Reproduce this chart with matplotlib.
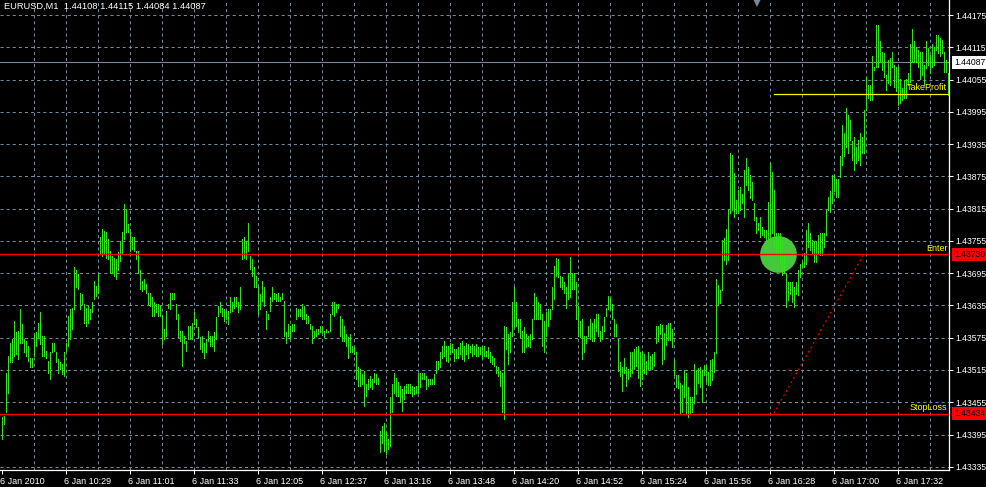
import numpy as np
import matplotlib.pyplot as plt
from matplotlib import transforms

plt.rcParams['font.family'] = ['Liberation Sans', 'DejaVu Sans']
plt.rcParams['lines.scale_dashes'] = False

chart_title = 'EURUSD,M1  1.44108 1.44115 1.44084 1.44087'

# bottom labels, one every 32 bars
time_labels = ['6 Jan 2010', '6 Jan 10:29', '6 Jan 11:01', '6 Jan 11:33', '6 Jan 12:05',
               '6 Jan 12:37', '6 Jan 13:16', '6 Jan 13:48', '6 Jan 14:20', '6 Jan 14:52',
               '6 Jan 15:24', '6 Jan 15:56', '6 Jan 16:28', '6 Jan 17:00', '6 Jan 17:32']

price_ticks = [1.44175, 1.44115, 1.44055, 1.43995, 1.43935, 1.43875, 1.43815, 1.43755,
               1.43695, 1.43635, 1.43575, 1.43515, 1.43455, 1.43395, 1.43335]

bid = 1.44087
enter_price = 1.43730
stop_price = 1.43434
take_price = 1.44028
signal_bar = 388      # green dot
order_bar = 386       # start of take profit line / dotted line
order_end_bar = 431

# M1 bars, high and low in points: price = 1 + pts / 100000
high_pts = [
    43427, 43429, 43510, 43541, 43566, 43572, 43606, 43585, 43588, 43628,
    43600, 43572, 43569, 43560, 43538, 43538, 43582, 43585, 43603, 43622,
    43579, 43579, 43551, 43532, 43548, 43566, 43566, 43548, 43535, 43529,
    43526, 43548, 43566, 43616, 43628, 43631, 43706, 43700, 43693, 43659,
    43656, 43638, 43631, 43634, 43628, 43641, 43681, 43672, 43693, 43762,
    43778, 43774, 43771, 43758, 43737, 43727, 43724, 43721, 43734, 43755,
    43771, 43823, 43814, 43786, 43771, 43762, 43762, 43737, 43737, 43700,
    43681, 43684, 43675, 43659, 43659, 43650, 43641, 43638, 43638, 43634,
    43616, 43591, 43625, 43638, 43659, 43659, 43659, 43638, 43619, 43588,
    43588, 43579, 43569, 43597, 43597, 43603, 43622, 43610, 43594, 43576,
    43579, 43566, 43572, 43588, 43579, 43579, 43585, 43613, 43634, 43641,
    43631, 43628, 43625, 43625, 43650, 43641, 43650, 43650, 43641, 43669,
    43758, 43762, 43755, 43789, 43727, 43721, 43706, 43690, 43669, 43656,
    43681, 43669, 43625, 43619, 43650, 43669, 43659, 43656, 43659, 43650,
    43659, 43644, 43585, 43600, 43597, 43600, 43600, 43631, 43628, 43628,
    43638, 43634, 43619, 43616, 43600, 43597, 43588, 43591, 43591, 43597,
    43597, 43588, 43591, 43588, 43619,
    43641, 43641, 43638, 43638, 43616, 43610, 43597, 43582, 43576, 43582,
    43560, 43557, 43548, 43520, 43517, 43507, 43513, 43489, 43498, 43504,
    43498, 43510, 43507, 43501, 43402, 43411, 43417, 43399, 43386, 43464,
    43489, 43510, 43501, 43492, 43486, 43479, 43486, 43489, 43489, 43489,
    43486, 43483, 43486, 43510, 43510, 43510, 43510, 43504, 43498, 43498,
    43498, 43507, 43532, 43532, 43548, 43560, 43569, 43560, 43560, 43566,
    43563, 43554, 43554, 43557, 43566, 43569, 43560, 43566, 43563, 43560,
    43563, 43560, 43563, 43557, 43557, 43560, 43560, 43551, 43557, 43548,
    43541, 43538, 43523, 43520, 43513, 43510, 43597, 43594, 43582, 43585,
    43641, 43669, 43641, 43610, 43610, 43588, 43594, 43582, 43579, 43582,
    43610, 43659, 43650, 43641, 43638, 43619, 43606, 43622, 43628, 43628,
    43669, 43709, 43724, 43721, 43690, 43687, 43678, 43669, 43696, 43726,
    43696, 43696, 43678, 43634, 43606, 43610, 43579, 43579, 43597, 43610,
    43603, 43610, 43619, 43619, 43588, 43597, 43613, 43631, 43653, 43650,
    43638, 43610, 43600, 43572, 43529, 43520, 43538, 43520, 43517, 43548,
    43548, 43554, 43557, 43560, 43548, 43551, 43545, 43532, 43548, 43541,
    43545, 43548, 43597, 43597, 43600,
    43598, 43583, 43598, 43602, 43602, 43592, 43536, 43505, 43505, 43490,
    43487, 43515, 43509, 43484, 43465, 43465, 43527, 43515, 43518, 43521,
    43515, 43524, 43524, 43512, 43533, 43536, 43549, 43685, 43673, 43664,
    43757, 43760, 43778, 43815, 43918, 43915, 43881, 43831, 43850, 43856,
    43843, 43887, 43909, 43893, 43878, 43865, 43825, 43800, 43788, 43800,
    43781, 43775, 43775, 43828, 43899, 43884, 43850, 43769, 43769, 43769,
    43757, 43732, 43695, 43679, 43679, 43679, 43670, 43679, 43701, 43713,
    43716, 43732, 43775, 43788, 43769, 43757, 43754, 43754, 43766, 43769,
    43769, 43769, 43812, 43837, 43847, 43878, 43878, 43871, 43871, 43912,
    43971, 43955, 44002, 43989, 43980, 43940, 43949, 43930, 43943, 43955,
    43949, 43998, 44060, 44045, 44045, 44098, 44079, 44157, 44157, 44126,
    44107, 44104, 44064, 44091, 44095, 44107, 44082, 44079, 44079, 44057,
    44039, 44054, 44057, 44067, 44122, 44150, 44126, 44116, 44110, 44107,
    44107, 44082, 44126, 44113, 44101, 44122, 44116, 44138, 44138, 44132,
    44129, 44107, 44091, 44067,
]

low_pts = [
    43386, 43414, 43436, 43473, 43529, 43529, 43541, 43544, 43535, 43566,
    43566, 43548, 43541, 43532, 43520, 43520, 43541, 43560, 43575, 43563,
    43541, 43541, 43538, 43510, 43498, 43548, 43551, 43529, 43510, 43517,
    43507, 43504, 43551, 43560, 43572, 43591, 43628, 43669, 43665, 43628,
    43638, 43603, 43597, 43603, 43610, 43622, 43647, 43653, 43659, 43730,
    43727, 43730, 43724, 43721, 43696, 43696, 43690, 43684, 43700, 43718,
    43730, 43758, 43771, 43771, 43737, 43740, 43737, 43721, 43696, 43665,
    43662, 43665, 43659, 43638, 43634, 43616, 43616, 43622, 43616, 43616,
    43563, 43572, 43579, 43631, 43628, 43647, 43647, 43610, 43576, 43569,
    43523, 43566, 43551, 43572, 43572, 43572, 43600, 43594, 43576, 43554,
    43548, 43538, 43548, 43569, 43560, 43560, 43551, 43572, 43616, 43622,
    43616, 43606, 43610, 43600, 43622, 43625, 43631, 43634, 43622, 43628,
    43721, 43724, 43721, 43737, 43703, 43690, 43669, 43669, 43619, 43628,
    43644, 43634, 43591, 43610, 43625, 43644, 43647, 43644, 43644, 43644,
    43647, 43579, 43566, 43579, 43572, 43588, 43588, 43610, 43616, 43616,
    43610, 43610, 43603, 43603, 43591, 43566, 43576, 43579, 43582, 43585,
    43585, 43576, 43585, 43585, 43588,
    43619, 43616, 43622, 43631, 43579, 43569, 43569, 43560, 43538, 43548,
    43548, 43544, 43498, 43486, 43486, 43489, 43448, 43467, 43479, 43483,
    43479, 43492, 43489, 43489, 43362, 43380, 43365, 43358, 43368, 43374,
    43436, 43473, 43467, 43467, 43455, 43439, 43461, 43473, 43473, 43473,
    43467, 43470, 43473, 43473, 43483, 43498, 43498, 43479, 43486, 43489,
    43489, 43489, 43510, 43517, 43520, 43538, 43541, 43532, 43529, 43544,
    43548, 43532, 43538, 43538, 43544, 43535, 43532, 43544, 43538, 43548,
    43541, 43544, 43541, 43541, 43544, 43538, 43541, 43541, 43538, 43529,
    43526, 43523, 43510, 43504, 43486, 43436, 43424, 43554, 43526, 43548,
    43579, 43594, 43597, 43585, 43576, 43548, 43548, 43557, 43560, 43557,
    43572, 43610, 43610, 43610, 43610, 43560, 43548, 43579, 43597, 43610,
    43628, 43647, 43690, 43687, 43669, 43665, 43659, 43631, 43647, 43650,
    43665, 43665, 43610, 43579, 43576, 43535, 43548, 43566, 43579, 43572,
    43569, 43569, 43588, 43579, 43569, 43572, 43588, 43616, 43628, 43628,
    43610, 43579, 43579, 43514, 43504, 43476, 43510, 43486, 43498, 43504,
    43510, 43517, 43523, 43501, 43486, 43498, 43510, 43507, 43517, 43517,
    43517, 43523, 43566, 43569, 43582,
    43527, 43536, 43561, 43571, 43571, 43558, 43505, 43484, 43481, 43434,
    43437, 43465, 43434, 43428, 43434, 43437, 43453, 43471, 43490, 43484,
    43456, 43505, 43493, 43487, 43487, 43496, 43512, 43546, 43636, 43639,
    43664, 43719, 43713, 43719, 43806, 43812, 43800, 43806, 43806, 43812,
    43825, 43800, 43859, 43850, 43834, 43831, 43794, 43769, 43775, 43763,
    43766, 43763, 43757, 43757, 43760, 43769, 43744, 43732, 43726, 43713,
    43692, 43695, 43633, 43645, 43657, 43642, 43633, 43657, 43654, 43688,
    43707, 43707, 43713, 43744, 43738, 43732, 43716, 43716, 43732, 43729,
    43729, 43744, 43766, 43812, 43809, 43825, 43847, 43837, 43837, 43874,
    43896, 43912, 43930, 43918, 43943, 43905, 43887, 43899, 43905, 43896,
    43918, 43918, 43998, 44020, 44017, 44017, 44073, 44079, 44079, 44088,
    44073, 44060, 44036, 44048, 44045, 44079, 44042, 44033, 44008, 44011,
    44017, 44020, 44020, 44045, 44051, 44088, 44088, 44088, 44079, 44057,
    44064, 44045, 44076, 44082, 44067, 44079, 44082, 44110, 44104, 44098,
    44104, 44070, 44070, 44027,
]

high = 1 + np.array(high_pts) / 100000
low = 1 + np.array(low_pts) / 100000
bars = np.arange(len(high))

grid_color = '#778899'
bar_color = '#32e21e'
font_size = 6.2

fig = plt.figure(figsize=(9.86, 4.87), dpi=100, facecolor='black')
ax = fig.add_axes([0, 17 / 487, 949 / 986, 470 / 487])
ax.set_facecolor('black')
ax.set_xlim(-0.85, 473.65)
ax.set_ylim(1.43329, 1.44203)

# dashed grid
for p in price_ticks:
    ax.axhline(p, color=grid_color, lw=0.75, ls=(0, (2.2, 2.2)), zorder=0)
for i in range(16, len(bars), 16):
    ax.axvline(i, color=grid_color, lw=0.75, ls=(0, (2.2, 2.2)), zorder=0)

# signal dot under the bars
ax.scatter([signal_bar], [enter_price], s=700, color='#46c83c', linewidths=0, zorder=1)

# 1 px high-low bars, 2 px apart
ax.vlines(bars, low, high, colors=bar_color, lw=0.72, antialiased=False, zorder=2)

# order levels
ax.axhline(enter_price, color='red', lw=1.0, zorder=3)
ax.axhline(stop_price, color='red', lw=1.0, zorder=3)
ax.axhline(bid, color=grid_color, lw=0.8, zorder=1)
ax.plot([order_bar, bars[-1]], [take_price, take_price], color='yellow', lw=0.9, zorder=3)
ax.plot([order_bar, order_end_bar], [stop_price, enter_price], color='red',
        lw=0.8, ls=(0, (1.4, 2.2)), zorder=3)

right_edge = transforms.blended_transform_factory(ax.transAxes, ax.transData)
for name, level in [('TakeProfit', take_price), ('Enter', enter_price), ('StopLoss', stop_price)]:
    ax.annotate(name, xy=(1, level), xycoords=right_edge, xytext=(-1.2, 1.3),
                textcoords='offset points', ha='right', va='bottom',
                color='yellow', fontsize=font_size + 0.3, zorder=4)

# chart shift marker at the top
top_mark = transforms.blended_transform_factory(ax.transData, ax.transAxes)
ax.plot([377.6], [1 - 2.5 / 470], marker='v', markersize=6, color=grid_color,
        transform=top_mark, clip_on=False, markeredgewidth=0)

# axes look
for side in ['top', 'left']:
    ax.spines[side].set_visible(False)
for side in ['right', 'bottom']:
    ax.spines[side].set_color('white')
    ax.spines[side].set_linewidth(0.9)

ax.yaxis.tick_right()
ax.set_yticks(price_ticks)
ax.set_yticklabels(['%.5f' % p for p in price_ticks])
ax.tick_params(axis='y', colors='white', length=3, width=0.75, pad=1.8, labelsize=font_size)

ax.set_xticks(range(0, len(bars), 32))
ax.set_xticklabels(time_labels)
ax.tick_params(axis='x', colors='white', length=3, width=0.75, pad=2.0, labelsize=font_size + 0.3)
shift = transforms.ScaledTranslation(-2 / 100, 0, fig.dpi_scale_trans)
for lbl in ax.get_xticklabels():
    lbl.set_horizontalalignment('left')
    lbl.set_transform(lbl.get_transform() + shift)

# price boxes on the right scale
box_pos = transforms.blended_transform_factory(fig.transFigure, ax.transData)
for level, face, ink in [(enter_price, 'red', 'black'), (stop_price, 'red', 'black'), (bid, 'white', 'black')]:
    ax.text(954 / 986, level, '%.5f' % level, transform=box_pos, ha='left', va='center',
            color=ink, fontsize=font_size, clip_on=False,
            bbox=dict(boxstyle='square,pad=0.25', facecolor=face, edgecolor='none'))

fig.text(4 / 986, 1 - 2 / 487, chart_title, ha='left', va='top', color='white', fontsize=font_size + 0.5)

fig.savefig('out.png', dpi=100, facecolor='black')
